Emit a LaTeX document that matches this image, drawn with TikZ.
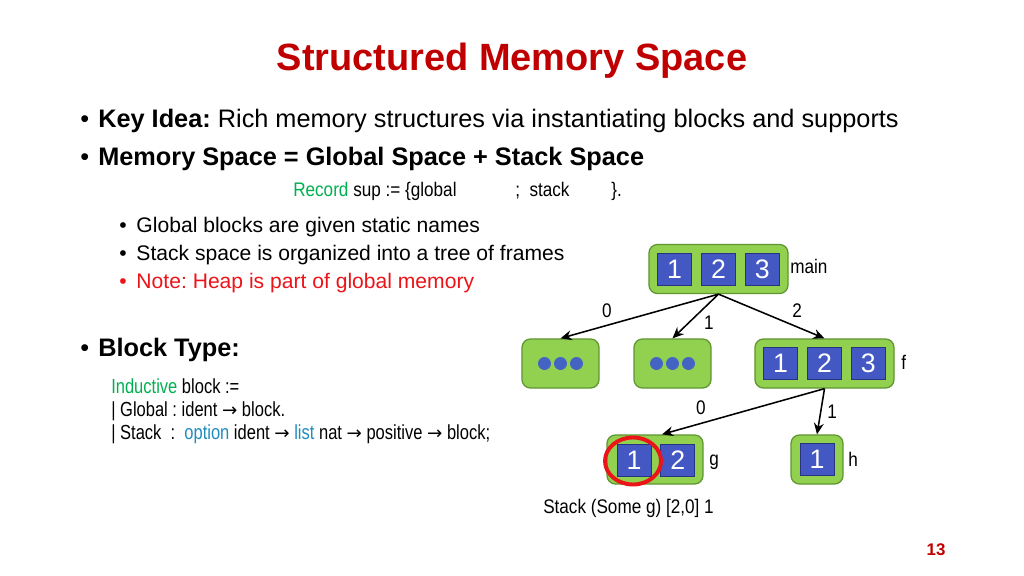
\documentclass[tikz,border=0pt]{standalone}
\usepackage{fontspec}
\setmainfont{Liberation Sans}
\newfontfamily\codefont[FakeStretch=0.87]{Liberation Sans}
\newfontfamily\blockfont[FakeStretch=0.81]{Liberation Sans}
\newfontfamily\arrowfont{DejaVu Sans}
\newcommand{\typearrow}{{\arrowfont\fontsize{13}{14}\selectfont →}}
\frenchspacing
\usetikzlibrary{positioning, shapes.geometric}
\usetikzlibrary{arrows.meta}
\definecolor{titlered}{RGB}{192,0,0}
\definecolor{notered}{RGB}{235,20,25}
\definecolor{framegreen}{RGB}{146,208,80}
\definecolor{frameedge}{RGB}{96,150,50}
\definecolor{cellblue}{RGB}{68,88,196}
\definecolor{celledge}{RGB}{40,52,130}
\definecolor{dotblue}{RGB}{68,100,196}
\definecolor{kwgreen}{RGB}{0,176,80}
\definecolor{kwblue}{RGB}{30,140,190}
\tikzstyle{framebox}=[rectangle,rounded corners=6pt,fill=framegreen,
draw=frameedge,line width=0.9pt,minimum height=1.225cm]
\tikzstyle{cellbox}=[rectangle,fill=cellblue,draw=celledge,line width=0.6pt,
minimum width=0.85cm,minimum height=0.8cm,inner sep=0pt,text=white,
font=\fontsize{19}{19}\selectfont]
\tikzstyle{slidetext}=[anchor=base west,inner sep=0pt,font=\fontsize{18}{20}\selectfont]
\tikzstyle{subtext}=[anchor=base west,inner sep=0pt,font=\fontsize{15}{17}\selectfont]
\tikzstyle{codetext}=[anchor=base west,inner sep=0pt,font=\codefont\fontsize{14}{16}\selectfont]
\tikzstyle{blocktext}=[anchor=base west,inner sep=0pt,font=\blockfont\fontsize{14.5}{16}\selectfont]
\tikzstyle{edgelabel}=[inner sep=0pt,font=\codefont\fontsize{14}{16}\selectfont]
\tikzstyle{edgepath} = [-{Stealth[length=8pt,width=7pt]},line width=1.1pt]

\begin{document}
\begin{tikzpicture}[x=0.025cm, y=-0.025cm, node distance = 0.225cm]
    \useasboundingbox (0,0) rectangle (1024,576);
    
    \node[anchor=base, inner sep=0pt, text=titlered,
    font=\bfseries\fontsize{27}{30}\selectfont] (title) at (512,71) {Structured Memory Space};
    
    \node[slidetext] (idea) at (80,128) {\textbullet\hspace{6.5pt}\textbf{Key Idea:} Rich memory structures via instantiating blocks and supports};
    \node[slidetext] (space) at (80,166) {\textbullet\hspace{6.5pt}\textbf{Memory Space = Global Space + Stack Space}};
    
    \node[codetext] (rec) at (293,197) {\textcolor{kwgreen}{Record} sup := \{global};
    \node[codetext] (recstack) at (515,197) {;\ \ stack};
    \node[codetext] (recend) at (611,197) {\}.};
    
    \node[subtext] (sub1) at (119,233) {\textbullet\hspace{7pt}Global blocks are given static names};
    \node[subtext] (sub2) at (119,261) {\textbullet\hspace{7pt}Stack space is organized into a tree of frames};
    \node[subtext, text=notered] (sub3) at (119,289) {\textbullet\hspace{7pt}Note: Heap is part of global memory};
    
    \node[slidetext] (btype) at (80,357) {\textbullet\hspace{6.5pt}\textbf{Block Type:}};
    \node[blocktext] (ind) at (111,393) {\textcolor{kwgreen}{Inductive} block :=};
    \node[blocktext] (glob) at (111,416) {| Global : ident \typearrow{} block.};
    \node[blocktext] (stk) at (111,439) {| Stack\ \ :\ \ \textcolor{kwblue}{option} ident \typearrow{} \textcolor{kwblue}{list} nat \typearrow{} positive \typearrow{} block;};
    
    % frame tree
    \node[framebox, minimum width=3.475cm] (main) at (718.5,269) {};
    \node[cellbox] (m2) at (main) {2};
    \node[cellbox, left=of m2] (m1) {1};
    \node[cellbox, right=of m2] (m3) {3};
    \node[codetext] (mainname) at (790,274) {main};
    
    \node[framebox, minimum width=1.925cm] (d1) at (560.5,363.5) {};
    \node[framebox, minimum width=1.925cm] (d2) at (672.5,363.5) {};
    \foreach \n in {d1,d2}
        \foreach \dx in {-16,0,16}
            \fill[dotblue] ([xshift=\dx*0.025cm]\n.center) circle (4.6pt);
    
    \node[framebox, minimum width=3.475cm] (f) at (824.5,363.5) {};
    \node[cellbox] (f2) at (f) {2};
    \node[cellbox, left=of f2] (f1) {1};
    \node[cellbox, right=of f2] (f3) {3};
    \node[codetext] (fname) at (901,369) {f};
    
    \node[framebox, minimum width=2.4cm] (g) at (655,459.5) {};
    \node[cellbox] (g1) at (634,460) {1};
    \node[cellbox, right=of g1] (g2) {2};
    \node[codetext] (gname) at (709,465) {g};
    
    \node[framebox, minimum width=1.3cm] (h) at (817,459.5) {};
    \node[cellbox] (h1) at (h) {1};
    \node[codetext] (hname) at (848,466) {h};
    
    \node[ellipse, draw=notered, line width=2.8pt, minimum width=1.4cm,
    minimum height=1.175cm, inner sep=0pt] (hl) at (633,461) {};
    
    \path[edgepath]
    (main.south) edge node {} (d1.north)
    (main.south) edge node {} (d2.north)
    (main.south) edge node {} (f.north)
    (f.south) edge node {} ([xshift=0.175cm]g.north)
    (f.south) edge node {} (h.north);
    
    \node[edgelabel] (l0) at (607,311) {0};
    \node[edgelabel] (l1) at (709,323) {1};
    \node[edgelabel] (l2) at (797,311) {2};
    \node[edgelabel] (lg) at (701,408) {0};
    \node[edgelabel] (lh) at (832,412) {1};
    
    \node[codetext] (caption) at (543,513) {Stack (Some g) [2,0] 1};
    \node[anchor=base, inner sep=0pt, text=titlered,
    font=\bfseries\fontsize{12}{14}\selectfont] (page) at (936,555) {13};
\end{tikzpicture}
\end{document}
